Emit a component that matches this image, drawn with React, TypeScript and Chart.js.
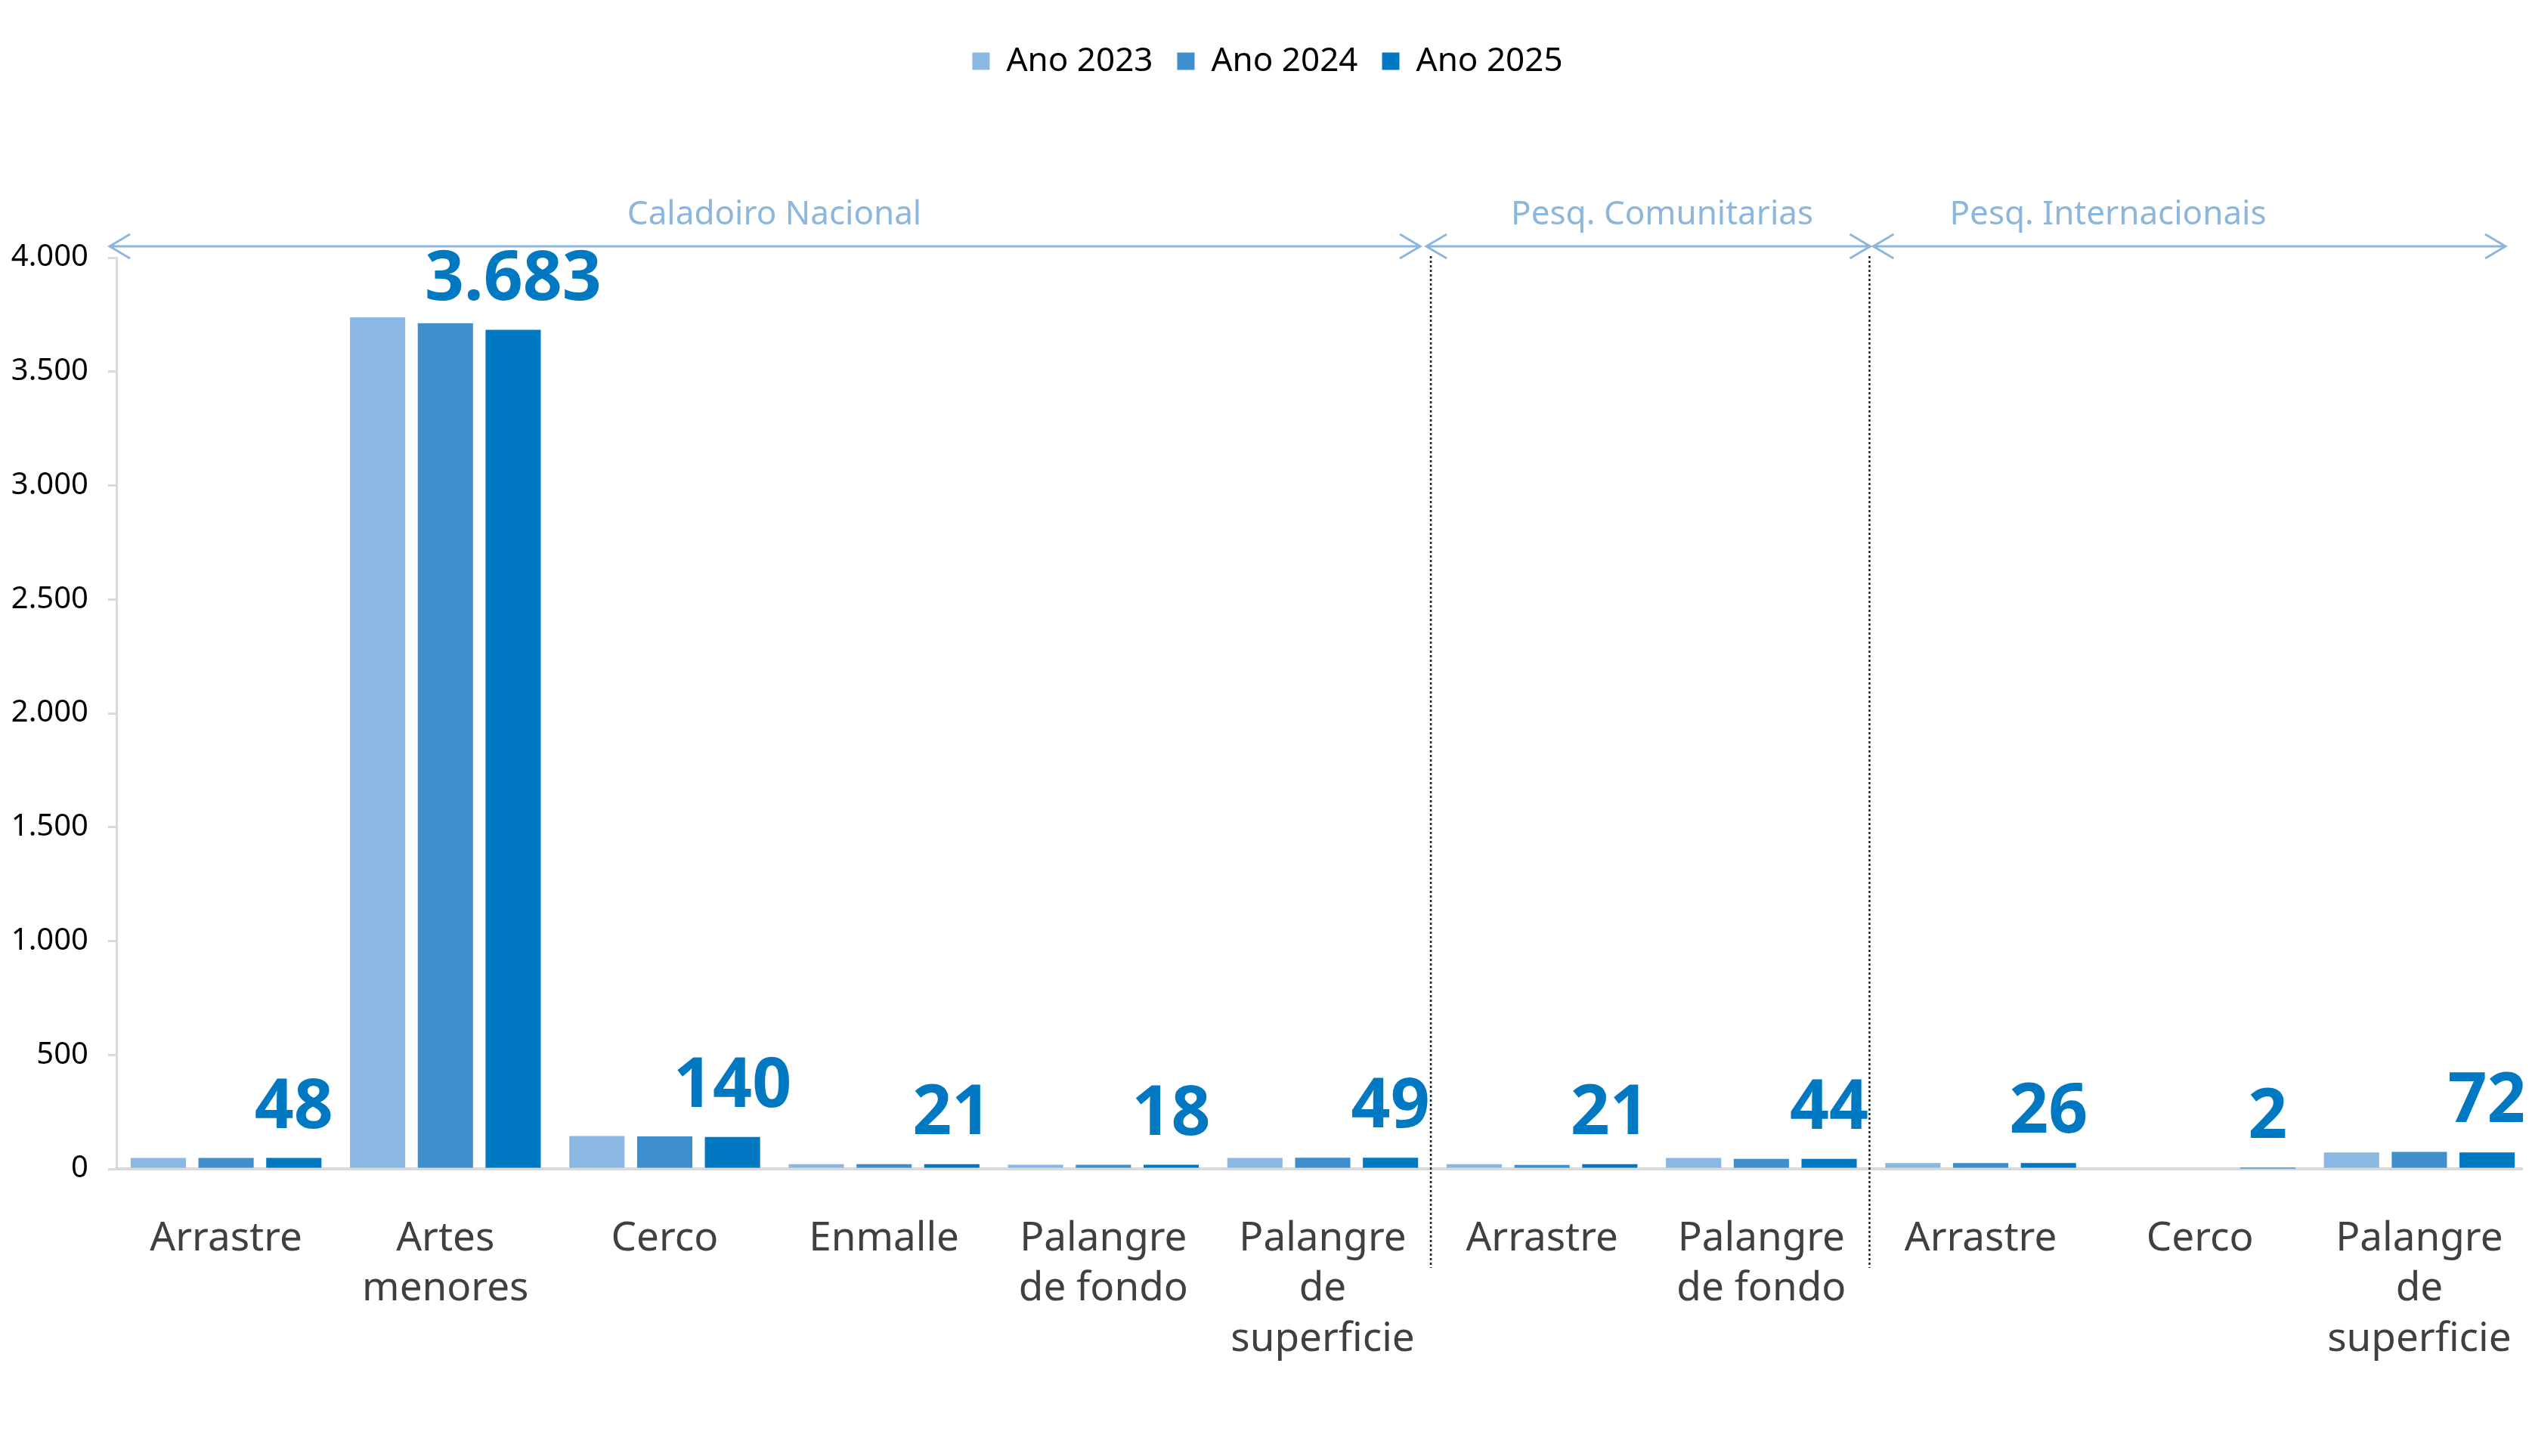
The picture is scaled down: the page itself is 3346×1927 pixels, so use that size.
import React, { useEffect, useRef } from 'react';
import { Chart, registerables } from 'chart.js';

Chart.register(...registerables);

const categories: string[][] = [
  ['Arrastre'],
  ['Artes', 'menores'],
  ['Cerco'],
  ['Enmalle'],
  ['Palangre', 'de fondo'],
  ['Palangre', 'de', 'superficie'],
  ['Arrastre'],
  ['Palangre', 'de fondo'],
  ['Arrastre'],
  ['Cerco'],
  ['Palangre', 'de', 'superficie'],
];

const seriesLabels = ['Ano 2023', 'Ano 2024', 'Ano 2025'];
const values2023 = [48, 3738, 144, 21, 18, 48, 21, 48, 26, 0, 72];
const values2024 = [48, 3712, 143, 21, 18, 49, 17, 44, 26, 0, 75];
const values2025 = [48, 3683, 140, 21, 18, 49, 21, 44, 26, 2, 72];

const groupNames = ['Caladoiro Nacional', 'Pesq. Comunitarias', 'Pesq. Internacionais'];
const groupStarts = [0, 6, 8];
const groupEnds = [5, 7, 10];

const yMin = 0;
const yMax = 4000;
const yStep = 500;

const colors = ['#8BB8E2', '#3F8FCD', '#0079C2'];

const fmt = (v: number) => String(Math.round(v)).replace(/\B(?=(\d{3})+(?!\d))/g, '.');

const FONT = '"Noto Sans"';
const CANVAS_W = 3338;
const CANVAS_H = 1911;

const overlayPlugin = {
  id: 'overlay',
  afterDatasetsDraw(chart: any) {
    const { ctx, chartArea, scales } = chart;
    const x = scales.x;
    const half = (x.getPixelForValue(1) - x.getPixelForValue(0)) / 2;
    ctx.save();

    // value labels on last series
    const meta = chart.getDatasetMeta(2);
    ctx.font = `bold 91px ${FONT}`;
    ctx.fillStyle = '#0079C2';
    ctx.textAlign = 'center';
    ctx.textBaseline = 'alphabetic';
    meta.data.forEach((bar: any, i: number) => {
      ctx.fillText(fmt(values2025[i]), bar.x, bar.y - 40);
    });

    // group arrows, labels and dividers
    const startInset = [-9, -8, 3];
    const endInset = [16, 1, 31];
    const headW = 27;
    const headH = 16;
    const arrowY = chartArea.top - 15;
    const labelY = chartArea.top - 57;
    groupNames.forEach((name, g) => {
      const left = x.getPixelForValue(groupStarts[g]) - half;
      const right = x.getPixelForValue(groupEnds[g]) + half;
      const a = left + startInset[g];
      const b = right - endInset[g];
      ctx.strokeStyle = '#8DB6DD';
      ctx.lineWidth = 3;
      ctx.setLineDash([]);
      ctx.beginPath();
      ctx.moveTo(a, arrowY);
      ctx.lineTo(b, arrowY);
      ctx.moveTo(a + headW, arrowY - headH);
      ctx.lineTo(a, arrowY);
      ctx.lineTo(a + headW, arrowY + headH);
      ctx.moveTo(b - headW, arrowY - headH);
      ctx.lineTo(b, arrowY);
      ctx.lineTo(b - headW, arrowY + headH);
      ctx.stroke();

      ctx.font = `44px ${FONT}`;
      ctx.fillStyle = '#8DB6DD';
      ctx.textBaseline = 'middle';
      if (g === 0) {
        ctx.textAlign = 'center';
        ctx.fillText(name, (left + right) / 2, labelY);
      } else {
        ctx.textAlign = 'left';
        ctx.fillText(name, left + 104, labelY);
      }

      if (g > 0) {
        ctx.strokeStyle = '#1A2633';
        ctx.lineWidth = 2.5;
        ctx.setLineDash([3, 3]);
        ctx.beginPath();
        ctx.moveTo(left - 2, chartArea.top - 2);
        ctx.lineTo(left - 2, chartArea.bottom + 131);
        ctx.stroke();
      }
    });
    ctx.restore();
  },
};

export default function App() {
  const ref = useRef<HTMLCanvasElement | null>(null);

  useEffect(() => {
    document.documentElement.style.overflow = 'hidden';
    document.body.style.overflow = 'hidden';
    if (!ref.current) return;
    Chart.defaults.font.family = 'Noto Sans';
    const chart = new Chart(ref.current, {
      type: 'bar',
      data: {
        labels: categories as any,
        datasets: [
          { label: seriesLabels[0], data: values2023, backgroundColor: colors[0] },
          { label: seriesLabels[1], data: values2024, backgroundColor: colors[1] },
          { label: seriesLabels[2], data: values2025, backgroundColor: colors[2] },
        ],
      },
      options: {
        animation: false,
        responsive: false,
        devicePixelRatio: 1,
        datasets: { bar: { categoryPercentage: 0.927, barPercentage: 0.815 } } as any,
        layout: { padding: { top: 19, left: 0, right: 0, bottom: 0 } },
        plugins: {
          tooltip: { enabled: false },
          legend: {
            position: 'top',
            labels: {
              boxWidth: 23,
              boxHeight: 23,
              padding: 32,
              color: '#000000',
              font: { family: 'Noto Sans', size: 44 },
            },
          },
          subtitle: {
            display: true,
            text: '',
            position: 'top',
            weight: 500,
            font: { size: 10, lineHeight: 1 },
            padding: { top: 0, bottom: 218 },
          } as any,
          title: { display: false },
        },
        scales: {
          x: {
            grid: { display: false },
            border: { display: true, color: '#D9D9D9', width: 4 },
            ticks: {
              color: '#404040',
              font: { family: 'Noto Sans', size: 53, lineHeight: 1.25 },
              padding: 52,
              autoSkip: false,
              maxRotation: 0,
            },
            afterFit: (s: any) => {
              s.height = 372;
              s.paddingLeft = 0;
              s.paddingRight = 0;
            },
          },
          y: {
            min: yMin,
            max: yMax,
            ticks: {
              stepSize: yStep,
              color: '#000000',
              font: { family: 'Noto Sans', size: 40 },
              padding: 26,
              callback: (v: any) => fmt(Number(v)),
            },
            grid: {
              display: true,
              drawOnChartArea: false,
              drawTicks: true,
              tickLength: 11,
              color: '#D9D9D9',
              lineWidth: 3,
            },
            border: { display: true, color: '#D9D9D9', width: 3 },
            afterFit: (s: any) => {
              s.width = 146;
              s.paddingTop = 0;
              s.paddingBottom = 0;
            },
          },
        },
      },
      plugins: [overlayPlugin],
    });
    return () => chart.destroy();
  }, []);

  return (
    <div style={{ width: '3330px', height: `${CANVAS_H}px`, overflow: 'hidden' }}>
      <canvas
        ref={ref}
        width={CANVAS_W}
        height={CANVAS_H}
        style={{ display: 'block', width: `${CANVAS_W}px`, height: `${CANVAS_H}px` }}
      />
    </div>
  );
}
